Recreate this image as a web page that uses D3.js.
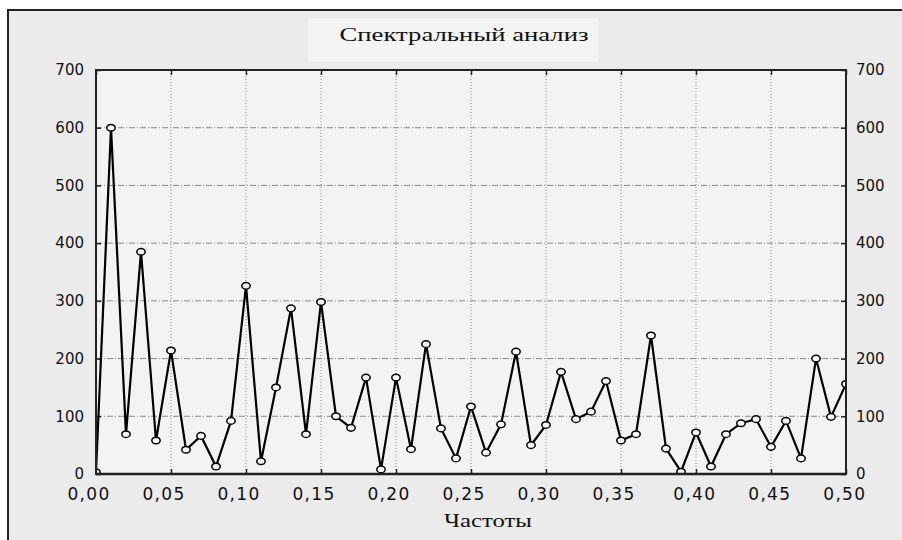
<!DOCTYPE html>
<html lang="ru">
<head>
    <meta charset="UTF-8">
    <title>Спектральный анализ</title>
    <script src="https://cdn.jsdelivr.net/npm/d3@7"></script>
    <style>
        html, body { margin: 0; padding: 0; background: #fff; overflow: hidden; }
        svg { display: block; }
    </style>
</head>
<body>
    <svg width="902" height="540" id="mainsvg"></svg>
    <script>
        // frequencies and periodogram values
        const freqs = [0.00, 0.01, 0.02, 0.03, 0.04, 0.05, 0.06, 0.07, 0.08, 0.09,
                       0.10, 0.11, 0.12, 0.13, 0.14, 0.15, 0.16, 0.17, 0.18, 0.19,
                       0.20, 0.21, 0.22, 0.23, 0.24, 0.25, 0.26, 0.27, 0.28, 0.29,
                       0.30, 0.31, 0.32, 0.33, 0.34, 0.35, 0.36, 0.37, 0.38, 0.39,
                       0.40, 0.41, 0.42, 0.43, 0.44, 0.45, 0.46, 0.47, 0.48, 0.49, 0.50]
        const values = [3, 600, 69, 385, 58, 214, 42, 66, 13, 92,
                        326, 22, 150, 287, 69, 298, 100, 80, 167, 8,
                        167, 43, 225, 79, 27, 117, 37, 86, 212, 50,
                        85, 177, 95, 108, 161, 58, 69, 240, 44, 4,
                        72, 13, 69, 88, 95, 47, 92, 27, 200, 99, 156]
        const xTicks = [0, 0.05, 0.10, 0.15, 0.20, 0.25, 0.30, 0.35, 0.40, 0.45, 0.50]
        const yTicks = [0, 100, 200, 300, 400, 500, 600, 700]
        const title = 'Спектральный анализ'
        const xTitle = 'Частоты'

        const svg = d3.select('#mainsvg')
        const width = +svg.attr('width')
        const height = +svg.attr('height')
        const margin = {top: 70, right: 56, bottom: 66, left: 96}
        const innerWidth = width - margin.left - margin.right
        const innerHeight = height - margin.top - margin.bottom

        // outer panel: only the left and top borders are visible
        svg.append('rect').attr('x', 8).attr('y', 10)
            .attr('width', width - 8).attr('height', height - 10)
            .attr('fill', '#ebebeb')
        svg.append('path').attr('d', `M8,${height} V10 H${width}`)
            .attr('fill', 'none').attr('stroke', '#222').attr('stroke-width', 2)

        // title box
        svg.append('rect').attr('x', 308).attr('y', 18).attr('width', 290).attr('height', 44)
            .attr('fill', '#f4f4f4')
        svg.append('text').attr('x', 464).attr('y', 41)
            .attr('text-anchor', 'middle')
            .attr('font-family', '"Liberation Serif", "DejaVu Serif", serif')
            .attr('font-size', 18).attr('fill', '#111')
            .attr('textLength', 249).attr('lengthAdjust', 'spacingAndGlyphs')
            .text(title)

        const g = svg.append('g').attr('id', 'maingroup')
            .attr('transform', `translate(${margin.left},${margin.top})`)

        g.append('rect').attr('width', innerWidth).attr('height', innerHeight).attr('fill', '#f3f3f3')

        const xScale = d3.scaleLinear().domain([0, 0.5]).range([0, innerWidth])
        const yScale = d3.scaleLinear().domain([0, 700]).range([innerHeight, 0])

        // grid
        g.append('g').selectAll('line').data(xTicks.slice(1, -1)).join('line')
            .attr('x1', d => xScale(d)).attr('x2', d => xScale(d))
            .attr('y1', 0).attr('y2', innerHeight)
            .attr('stroke', '#8a8a8a').attr('stroke-width', 1).attr('stroke-dasharray', '1,2')
        g.append('g').selectAll('line').data(yTicks.slice(1, -1)).join('line')
            .attr('x1', 0).attr('x2', innerWidth)
            .attr('y1', d => yScale(d)).attr('y2', d => yScale(d))
            .attr('stroke', '#8a8a8a').attr('stroke-width', 1).attr('stroke-dasharray', '6,2,1,2')

        const fmt = d => d3.format('.2f')(d).replace('.', ',')
        const labelFont = '"DejaVu Sans", "Liberation Sans", sans-serif'

        const xAxis = d3.axisBottom(xScale).tickValues(xTicks).tickSize(-5).tickFormat(fmt)
        const xAxisGroup = g.append('g').call(xAxis)
            .attr('transform', `translate(0, ${innerHeight})`)
        xAxisGroup.selectAll('text')
            .attr('dy', 0).attr('y', 26)
            .attr('dx', d => d < 0.375 ? -7.5 : -1.7)
            .attr('font-size', 17)
            .attr('letter-spacing', 1.3)

        const xTopAxis = d3.axisTop(xScale).tickValues(xTicks).tickSize(-5)
        const xTopGroup = g.append('g').call(xTopAxis)
        xTopGroup.selectAll('text').remove()

        const yAxis = d3.axisLeft(yScale).tickValues(yTicks).tickSize(-5)
        const yAxisGroup = g.append('g').call(yAxis)
        yAxisGroup.selectAll('text').attr('x', -12)

        const yRightAxis = d3.axisRight(yScale).tickValues(yTicks).tickSize(-5)
        const yRightGroup = g.append('g').call(yRightAxis)
            .attr('transform', `translate(${innerWidth}, 0)`)
        yRightGroup.selectAll('text').attr('x', 10)

        g.selectAll('.tick text').attr('font-family', labelFont).attr('fill', '#111')
        yAxisGroup.selectAll('text').attr('font-size', 15)
        yRightGroup.selectAll('text').attr('font-size', 15)
        g.selectAll('.tick line').attr('stroke', '#222').attr('stroke-width', 1.5)
        g.selectAll('.domain').remove()

        // series
        g.append('clipPath').attr('id', 'plotclip')
            .append('rect').attr('width', innerWidth).attr('height', innerHeight)
        const series = freqs.map((f, i) => ({f: f, v: values[i]}))
        const line = d3.line().x(d => xScale(d.f)).y(d => yScale(d.v))
        const plot = g.append('g').attr('clip-path', 'url(#plotclip)')
        plot.append('path').datum(series)
            .attr('d', line)
            .attr('fill', 'none').attr('stroke', '#000').attr('stroke-width', 2.2)
        plot.selectAll('ellipse').data(series).join('ellipse')
            .attr('cx', d => xScale(d.f)).attr('cy', d => yScale(d.v))
            .attr('rx', 4.2).attr('ry', 3.3)
            .attr('fill', '#f6f6f6').attr('stroke', '#000').attr('stroke-width', 1.5)

        // frame
        g.append('rect').attr('width', innerWidth).attr('height', innerHeight)
            .attr('fill', 'none').attr('stroke', '#222').attr('stroke-width', 2)
        g.append('line').attr('x1', 0).attr('x2', innerWidth)
            .attr('y1', innerHeight).attr('y2', innerHeight)
            .attr('stroke', '#222').attr('stroke-width', 2.5)

        svg.append('text').attr('x', 488).attr('y', 527)
            .attr('text-anchor', 'middle')
            .attr('font-family', '"Liberation Serif", "DejaVu Serif", serif')
            .attr('font-size', 19).attr('fill', '#111')
            .attr('textLength', 88).attr('lengthAdjust', 'spacingAndGlyphs')
            .text(xTitle)
    </script>
</body>
</html>
